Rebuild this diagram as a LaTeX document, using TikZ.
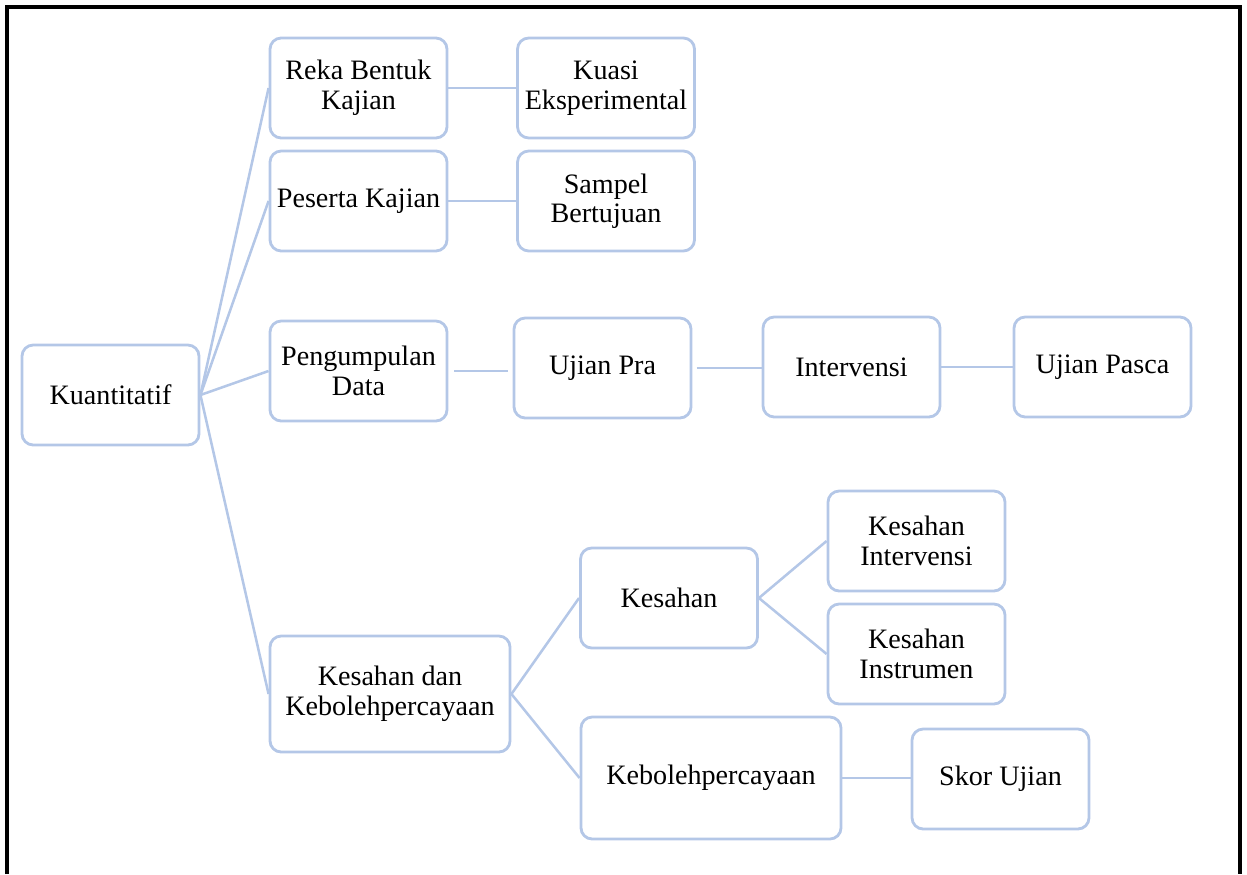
\documentclass[tikz,border=0pt]{standalone}
\usepackage{fontspec}
\setmainfont{Liberation Serif}
\definecolor{boxblue}{RGB}{180,199,231}
\tikzset{
  box/.style={draw=boxblue, line width=2pt, rounded corners=8pt, fill=white,
    align=center, inner sep=2pt, font=\fontsize{20}{21}\selectfont,
    minimum width=4.425cm, minimum height=2.5cm},
  link/.style={draw=boxblue, line width=1.8pt},
  frame/.style={draw=black, line width=2.4pt}
}
\begin{document}
\begin{tikzpicture}[x=0.025cm, y=-0.025cm]
\useasboundingbox (0,0) rectangle (1247,874);
\draw[frame] (7,874) -- (7,7) -- (1240,7) -- (1240,874);

\node[box] (kuan) at (110.5,395) {Kuantitatif};
\node[box] (reka) at (358.5,88) {Reka Bentuk\\Kajian};
\node[box] (kuasi) at (606,88) {Kuasi\\Eksperimental};
\node[box] (peserta) at (358.5,201) {Peserta Kajian};
\node[box] (sampel) at (606,201) {Sampel\\Bertujuan};
\node[box] (peng) at (358.5,371) {Pengumpulan\\Data};
\node[box] (pra) at (602.5,368) {Ujian Pra};
\node[box] (interv) at (851.5,367) {Intervensi};
\node[box] (pasca) at (1102.5,367) {Ujian Pasca};
\node[box, minimum width=6cm, minimum height=2.9cm] (kdk) at (390,694) {Kesahan dan\\Kebolehpercayaan};
\node[box] (kes) at (669,598) {Kesahan};
\node[box] (kesint) at (916.5,541) {Kesahan\\Intervensi};
\node[box] (kesins) at (916.5,654) {Kesahan\\Instrumen};
\node[box, minimum width=6.5cm, minimum height=3.05cm] (kebol) at (711,778) {Kebolehpercayaan};
\node[box] (skor) at (1000.5,779) {Skor Ujian};

\draw[link] (kuan.east) -- (reka.west);
\draw[link] (kuan.east) -- (peserta.west);
\draw[link] (kuan.east) -- (peng.west);
\draw[link] (kuan.east) -- (kdk.west);
\draw[link] (reka.east) -- (kuasi.west);
\draw[link] (peserta.east) -- (sampel.west);
\draw[link, shorten <=4pt, shorten >=3pt] (peng.east) -- (peng.east -| pra.west);
\draw[link, shorten <=3pt] (pra.east) -- (pra.east -| interv.west);
\draw[link] (interv.east) -- (interv.east -| pasca.west);
\draw[link] (kdk.east) -- (kes.west);
\draw[link] (kdk.east) -- (kebol.west);
\draw[link] (kes.east) -- (kesint.west);
\draw[link] (kes.east) -- (kesins.west);
\draw[link] (kebol.east) -- (kebol.east -| skor.west);
\end{tikzpicture}
\end{document}
